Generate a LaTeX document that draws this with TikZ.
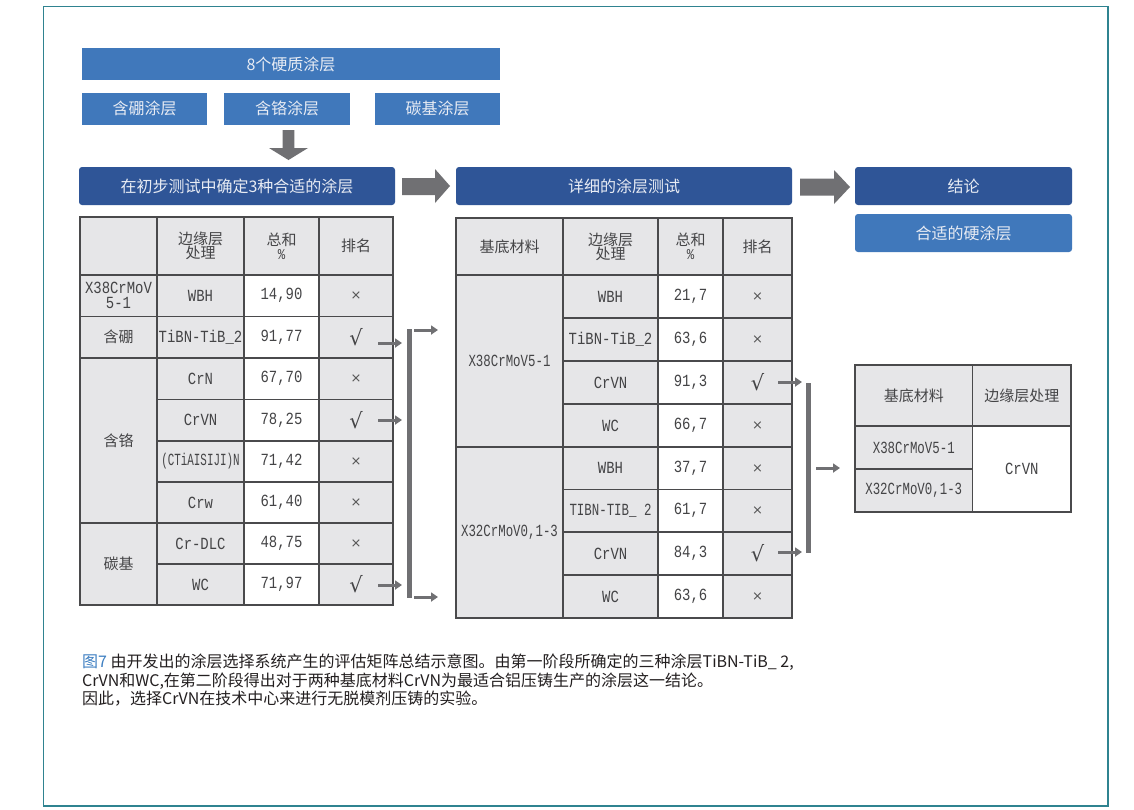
\documentclass[tikz,border=0pt]{standalone}
\usepackage{fontspec}
\setmainfont{Noto Sans CJK SC}
\newfontfamily\monoA[FakeStretch=0.82]{Liberation Mono}
\newfontfamily\monoB[FakeStretch=0.73]{Liberation Mono}
\newfontfamily\monoC[FakeStretch=0.64]{Liberation Mono}
\newfontfamily\symf{DejaVu Sans}
\usetikzlibrary{arrows.meta}
\definecolor{midblue}{HTML}{4078BB}
\definecolor{darkblue}{HTML}{2F5597}
\definecolor{arrowgray}{HTML}{707073}
\definecolor{cellgray}{HTML}{E6E6E8}
\definecolor{linegray}{HTML}{4A4A4C}
\definecolor{txtgray}{HTML}{444446}
\definecolor{markgray}{HTML}{555555}
\definecolor{frameteal}{HTML}{2F8390}
\definecolor{capblue}{HTML}{3F80C2}
\definecolor{captext}{HTML}{231F20}
\definecolor{lighttext}{HTML}{E8ECF4}
\newcommand\okmark{{\symf\fontsize{21}{21}\selectfont\color{txtgray}√}}
\newcommand\nomark{{\symf\fontsize{13}{13}\selectfont\color{markgray}×}}
\newcommand\tcell[7]{%
  \pgfmathsetmacro\tcX{(#2+#4)/2}\pgfmathsetmacro\tcY{(#3+#5)/2}%
  \pgfmathsetmacro\tcW{#4-#2}\pgfmathsetmacro\tcH{#5-#3}%
  \node[#6, minimum width=\tcW pt, minimum height=\tcH pt] (#1) at (\tcX,\tcY) {#7};}
\begin{document}
\begin{tikzpicture}[x=1pt,y=-1pt,
  lightbox/.style={fill=midblue, text=lighttext, inner sep=0, font=\fontsize{16}{19}\selectfont},
  darkbar/.style={fill=darkblue, text=lighttext, rounded corners=3pt, inner sep=0, font=\fontsize{16}{19}\selectfont},
  cellg/.style={draw=linegray, line width=1.2pt, fill=cellgray, text=txtgray, inner sep=0, align=center, font=\fontsize{15}{14}\selectfont},
  cellw/.style={cellg, fill=white},
  monotxt/.style={font=\monoA\fontsize{17}{15}\selectfont},
  monolong/.style={font=\monoB\fontsize{17}{15}\selectfont},
  monotight/.style={font=\monoC\fontsize{17}{15}\selectfont},
  blockarrow/.style={fill=arrowgray},
  smallarrow/.style={draw=arrowgray, line width=3pt, -{Triangle[length=7pt,width=9pt]}},
  collector/.style={draw=arrowgray, line width=5pt},
  captxt/.style={anchor=base west, inner sep=0, text=captext, font=\fontsize{16}{18}\selectfont}
]
\useasboundingbox (0,0) rectangle (1134,809);
\fill[white] (0,0) rectangle (1134,809);
\draw[frameteal, line width=1.3pt] (43.5,6.5) rectangle (1108,806);

% top boxes
\tcell{all}{82}{48}{500}{80}{lightbox}{8个硬质涂层}
\tcell{subB}{82}{93}{207}{124.5}{lightbox}{含硼涂层}
\tcell{subCr}{224}{93}{350}{124.5}{lightbox}{含铬涂层}
\tcell{subC}{375}{93}{500}{124.5}{lightbox}{碳基涂层}

% stage bars
\tcell{bar1}{79}{167}{395}{205}{darkbar}{在初步测试中确定3种合适的涂层}
\tcell{bar2}{456}{167}{792}{205}{darkbar}{详细的涂层测试}
\tcell{bar3}{855}{167}{1072}{205}{darkbar}{结论}
\tcell{result}{855}{214}{1072}{252}{lightbox, rounded corners=3pt}{合适的硬涂层}

% block arrows
\fill[blockarrow] (282.7,130) -- (294.3,130) -- (294.3,148) -- (308,148) -- (288.5,160) -- (269,148) -- (282.7,148) -- cycle;
\fill[blockarrow] (402,178) -- (435,178) -- (435,169) -- (450,186) -- (435,203) -- (435,195) -- (402,195) -- cycle;
\fill[blockarrow] (800,178.5) -- (834,178.5) -- (834,170) -- (850,187) -- (834,204) -- (834,195.5) -- (800,195.5) -- cycle;

% table 1
\tcell{t1h1}{80}{217}{157}{275}{cellg}{}
\tcell{t1h2}{157}{217}{244}{275}{cellg}{边缘层\\处理}
\tcell{t1h3}{244}{217}{319}{275}{cellg}{总和\\{\monoA\%}}
\tcell{t1h4}{319}{217}{393}{275}{cellg}{排名}

\tcell{t1a1}{80}{275}{157}{316.5}{cellg,monotxt}{X38CrMoV\\5-1}
\tcell{t1a2}{157}{275}{244}{316.5}{cellg,monotxt}{WBH}
\tcell{t1a3}{244}{275}{319}{316.5}{cellw,monotxt}{14,90}
\tcell{t1a4}{319}{275}{393}{316.5}{cellg}{\nomark}

\tcell{t1b1}{80}{316.5}{157}{358}{cellg}{含硼}
\tcell{t1b2}{157}{316.5}{244}{358}{cellg,monotxt}{TiBN-TiB\_2}
\tcell{t1b3}{244}{316.5}{319}{358}{cellw,monotxt}{91,77}
\tcell{t1b4}{319}{316.5}{393}{358}{cellg}{\okmark}

\tcell{t1g2}{80}{358}{157}{523}{cellg}{含铬}
\tcell{t1c2}{157}{358}{244}{399.5}{cellg,monotxt}{CrN}
\tcell{t1c3}{244}{358}{319}{399.5}{cellw,monotxt}{67,70}
\tcell{t1c4}{319}{358}{393}{399.5}{cellg}{\nomark}
\tcell{t1d2}{157}{399.5}{244}{441}{cellg,monotxt}{CrVN}
\tcell{t1d3}{244}{399.5}{319}{441}{cellw,monotxt}{78,25}
\tcell{t1d4}{319}{399.5}{393}{441}{cellg}{\okmark}
\tcell{t1e2}{157}{441}{244}{482}{cellg,monotight}{(CTiAISIJI)N}
\tcell{t1e3}{244}{441}{319}{482}{cellw,monotxt}{71,42}
\tcell{t1e4}{319}{441}{393}{482}{cellg}{\nomark}
\tcell{t1f2}{157}{482}{244}{523}{cellg,monotxt}{Crw}
\tcell{t1f3}{244}{482}{319}{523}{cellw,monotxt}{61,40}
\tcell{t1f4}{319}{482}{393}{523}{cellg}{\nomark}

\tcell{t1g3}{80}{523}{157}{605}{cellg}{碳基}
\tcell{t1h2b}{157}{523}{244}{564}{cellg,monotxt}{Cr-DLC}
\tcell{t1h3b}{244}{523}{319}{564}{cellw,monotxt}{48,75}
\tcell{t1h4b}{319}{523}{393}{564}{cellg}{\nomark}
\tcell{t1i2}{157}{564}{244}{605}{cellg,monotxt}{WC}
\tcell{t1i3}{244}{564}{319}{605}{cellw,monotxt}{71,97}
\tcell{t1i4}{319}{564}{393}{605}{cellg}{\okmark}

% arrows table 1 -> collector
\coordinate (s1a) at (378,343);  \coordinate (e1a) at (402,343);
\coordinate (s1b) at (378,420);  \coordinate (e1b) at (402,420);
\coordinate (s1c) at (378,585);  \coordinate (e1c) at (402,585);
\coordinate (v1t) at (409,329);  \coordinate (v1b) at (409,598);
\coordinate (o1as) at (414,330); \coordinate (o1ae) at (438,330);
\coordinate (o1bs) at (414,597); \coordinate (o1be) at (438,597);
\draw[smallarrow] (s1a) -- (e1a);
\draw[smallarrow] (s1b) -- (e1b);
\draw[smallarrow] (s1c) -- (e1c);
\draw[collector] (v1t) -- (v1b);
\draw[smallarrow] (o1as) -- (o1ae);
\draw[smallarrow] (o1bs) -- (o1be);

% table 2
\tcell{t2h1}{456}{218}{563}{275}{cellg}{基底材料}
\tcell{t2h2}{563}{218}{658}{275}{cellg}{边缘层\\处理}
\tcell{t2h3}{658}{218}{723}{275}{cellg}{总和\\{\monoA\%}}
\tcell{t2h4}{723}{218}{792}{275}{cellg}{排名}

\tcell{t2g1}{456}{275}{563}{447}{cellg,monolong}{X38CrMoV5-1}
\tcell{t2a2}{563}{275}{658}{318}{cellg,monotxt}{WBH}
\tcell{t2a3}{658}{275}{723}{318}{cellw,monotxt}{21,7}
\tcell{t2a4}{723}{275}{792}{318}{cellg}{\nomark}
\tcell{t2b2}{563}{318}{658}{361}{cellg,monotxt}{TiBN-TiB\_2}
\tcell{t2b3}{658}{318}{723}{361}{cellw,monotxt}{63,6}
\tcell{t2b4}{723}{318}{792}{361}{cellg}{\nomark}
\tcell{t2c2}{563}{361}{658}{404}{cellg,monotxt}{CrVN}
\tcell{t2c3}{658}{361}{723}{404}{cellw,monotxt}{91,3}
\tcell{t2c4}{723}{361}{792}{404}{cellg}{\okmark}
\tcell{t2d2}{563}{404}{658}{447}{cellg,monotxt}{WC}
\tcell{t2d3}{658}{404}{723}{447}{cellw,monotxt}{66,7}
\tcell{t2d4}{723}{404}{792}{447}{cellg}{\nomark}

\tcell{t2g2}{456}{447}{563}{618}{cellg,monolong}{X32CrMoV0,1-3}
\tcell{t2e2}{563}{447}{658}{489.5}{cellg,monotxt}{WBH}
\tcell{t2e3}{658}{447}{723}{489.5}{cellw,monotxt}{37,7}
\tcell{t2e4}{723}{447}{792}{489.5}{cellg}{\nomark}
\tcell{t2f2}{563}{489.5}{658}{532}{cellg,monolong}{TIBN-TIB\_ 2}
\tcell{t2f3}{658}{489.5}{723}{532}{cellw,monotxt}{61,7}
\tcell{t2f4}{723}{489.5}{792}{532}{cellg}{\nomark}
\tcell{t2i2}{563}{532}{658}{575}{cellg,monotxt}{CrVN}
\tcell{t2i3}{658}{532}{723}{575}{cellw,monotxt}{84,3}
\tcell{t2i4}{723}{532}{792}{575}{cellg}{\okmark}
\tcell{t2j2}{563}{575}{658}{618}{cellg,monotxt}{WC}
\tcell{t2j3}{658}{575}{723}{618}{cellw,monotxt}{63,6}
\tcell{t2j4}{723}{575}{792}{618}{cellg}{\nomark}

% arrows table 2 -> collector
\coordinate (s2a) at (778,382);  \coordinate (e2a) at (802,382);
\coordinate (s2b) at (778,552);  \coordinate (e2b) at (802,552);
\coordinate (v2t) at (808,383);  \coordinate (v2b) at (808,553);
\coordinate (o2s) at (816,468);  \coordinate (o2e) at (840,468);
\draw[smallarrow] (s2a) -- (e2a);
\draw[smallarrow] (s2b) -- (e2b);
\draw[collector] (v2t) -- (v2b);
\draw[smallarrow] (o2s) -- (o2e);

% table 3
\tcell{t3h1}{855}{365}{972.5}{426}{cellg}{基底材料}
\tcell{t3h2}{972.5}{365}{1071}{426}{cellg}{边缘层处理}
\tcell{t3a1}{855}{426}{972.5}{469}{cellg,monolong}{X38CrMoV5-1}
\tcell{t3b1}{855}{469}{972.5}{512}{cellg,monolong}{X32CrMoV0,1-3}
\tcell{t3m2}{972.5}{426}{1071}{512}{cellw,monotxt}{CrVN}

% caption
\node[captxt] (cap1) at (82,667.5) {\textcolor{capblue}{图7} 由开发出的涂层选择系统产生的评估矩阵总结示意图。由第一阶段所确定的三种涂层TiBN-TiB\_ 2,};
\node[captxt] (cap2) at (82,686) {CrVN和WC,在第二阶段得出对于两种基底材料CrVN为最适合铝压铸生产的涂层这一结论。};
\node[captxt] (cap3) at (82,704.5) {因此，选择CrVN在技术中心来进行无脱模剂压铸的实验。};
\end{tikzpicture}
\end{document}
